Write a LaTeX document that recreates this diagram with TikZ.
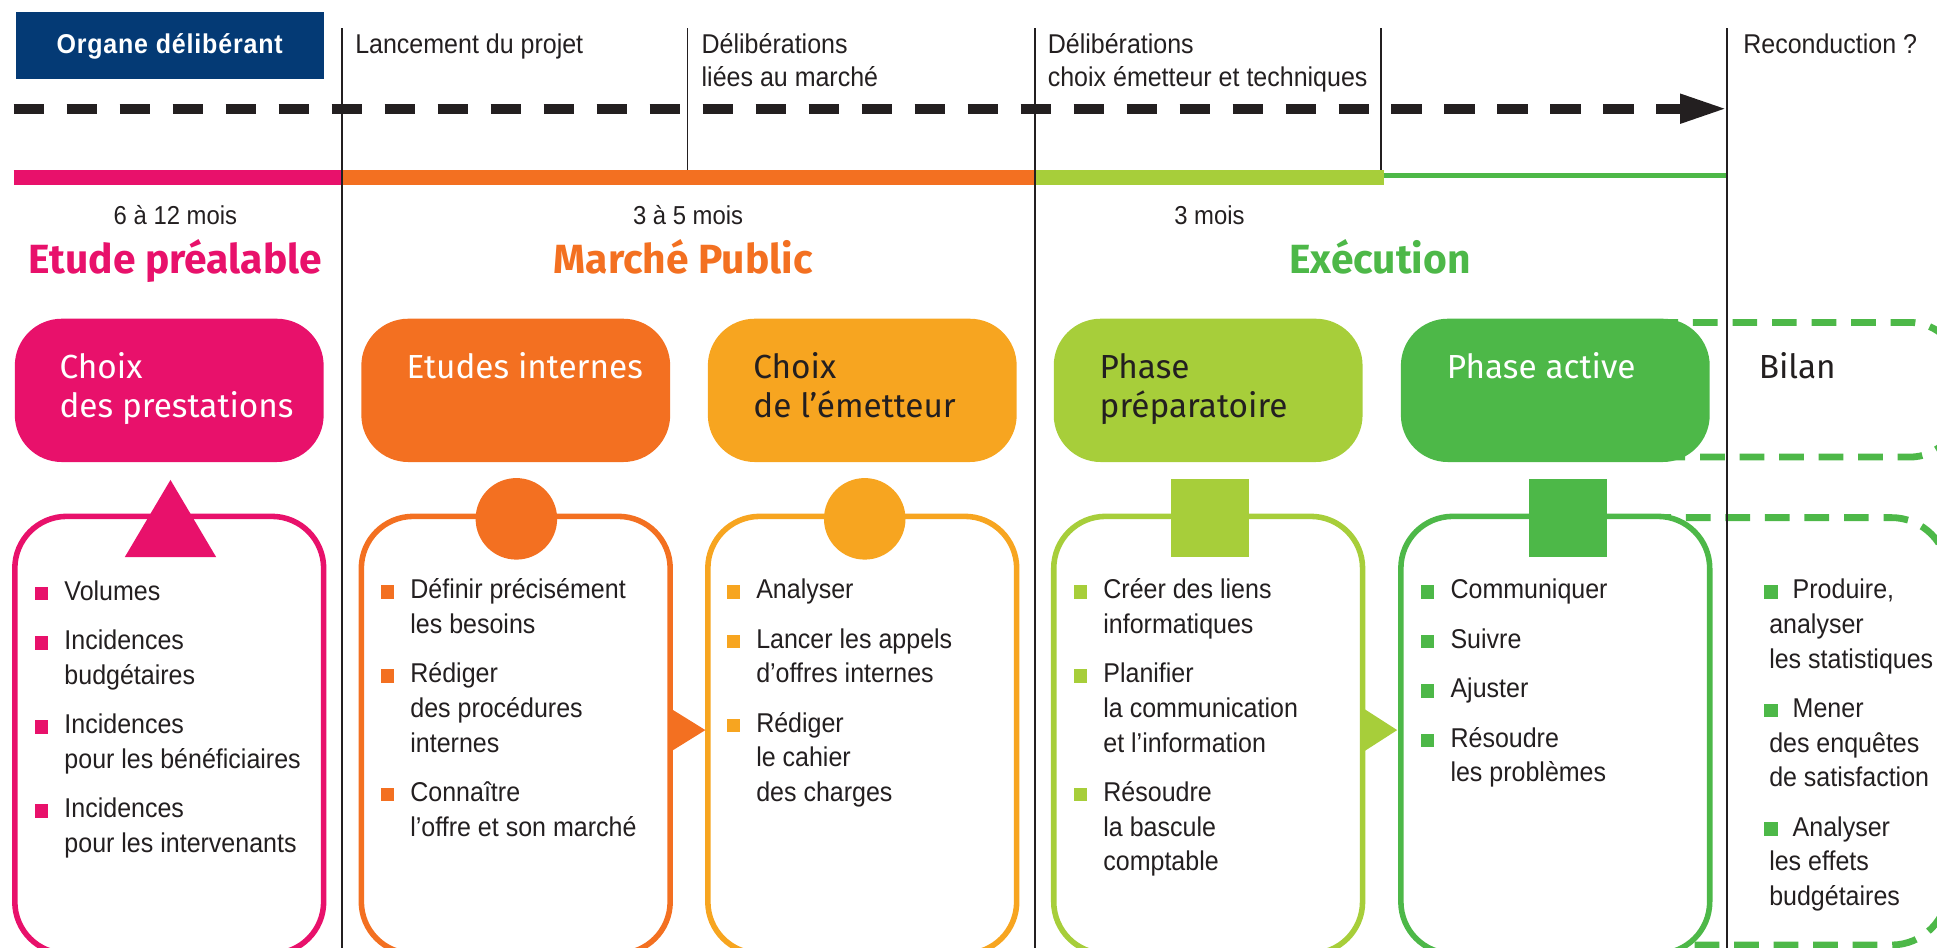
\documentclass[tikz,border=0pt]{standalone}
\usepackage{fontspec}
\setmainfont{Fira Sans}
\newfontfamily\condfont[FakeStretch=0.92]{Liberation Sans}
\usetikzlibrary{arrows.meta}

\definecolor{pinkc}{HTML}{E8116B}
\definecolor{orangec}{HTML}{F37021}
\definecolor{yellowc}{HTML}{F7A520}
\definecolor{lgreenc}{HTML}{A7CE3A}
\definecolor{greenc}{HTML}{4DB848}
\definecolor{navyc}{HTML}{043A75}
\definecolor{inkc}{HTML}{231F20}

\newcommand{\bulsq}[1]{\textcolor{#1}{\rule{11pt}{11pt}}}

\begin{document}
\begin{tikzpicture}[x=1pt, y=-1pt,
  divider/.style={inkc, line width=1.3pt},
  phasebar/.style={line width=12pt},
  timeline/.style={inkc, line width=8pt, dash pattern=on 25pt off 17.9pt, -{Triangle[length=38pt, width=22pt]}},
  organe/.style={fill=navyc, text=white, minimum width=249.4pt, minimum height=54.2pt, inner sep=0pt,
    text height=16pt, text depth=4pt, font=\condfont\bfseries\fontsize{22}{26}\selectfont\addfontfeatures{LetterSpace=3}},
  toptext/.style={font=\condfont\fontsize{22}{27}\selectfont, text=inkc, align=left, anchor=north west, inner sep=0pt},
  duration/.style={font=\condfont\fontsize{21}{25}\selectfont, text=inkc, anchor=base, inner sep=0pt},
  phasetitle/.style={font=\bfseries\fontsize{33}{38}\selectfont, anchor=base, inner sep=0pt},
  topbox/.style={rounded corners=38pt, minimum width=250pt, minimum height=116pt, inner sep=0pt},
  boxtitle/.style={font=\fontsize{27}{32}\selectfont, text=inkc, align=left, anchor=north west, inner sep=0pt},
  listbox/.style={draw, fill=white, line width=4.5pt, rounded corners=42pt, minimum width=250pt, minimum height=354pt, inner sep=0pt},
  bilanbox/.style={greenc, line width=5.5pt, dash pattern=on 20pt off 12pt},
  itemlist/.style={font=\condfont\fontsize{22}{28}\selectfont, text=inkc, anchor=north west, inner sep=0pt}]

\useasboundingbox (0,0) rectangle (1568,767);
\clip (0,0) rectangle (1568,767);

% -------- time line -----------
\draw[phasebar, pinkc]   (11,143.7) -- (277,143.7);
\draw[phasebar, orangec] (277,143.7) -- (838,143.7);
\draw[phasebar, lgreenc] (838,143.7) -- (1120,143.7);
\draw[greenc, line width=4.5pt] (1120,142) -- (1398,142);

\coordinate (tstart) at (11,88);
\coordinate (tend) at (1398,88);
\draw[timeline] (tstart) -- (tend);

\node[organe] (organe) at (137.3,37.1) {Organe délibérant};

\node[toptext] (lancement) at (287.4,24.1) {\strut Lancement du projet};
\node[toptext] (delib1) at (567.8,24.1) {\strut Délibérations\\liées au marché};
\node[toptext] (delib2) at (848,24.1) {\strut Délibérations\\choix émetteur et techniques};
\node[toptext] (reconduction) at (1411,24.1) {\strut Reconduction ?};

\node[duration] (dur1) at (142,182) {6 à 12 mois};
\node[duration] (dur2) at (557,182) {3 à 5 mois};
\node[duration] (dur3) at (979,182) {3 mois};

\node[phasetitle, text=pinkc]   (etude)  at (142,221) {Etude préalable};
\node[phasetitle, text=orangec] (marche) at (553,221) {Marché Public};
\node[phasetitle, text=greenc]  (execution) at (1117,221) {Exécution};

% -------- bilan (behind) -----------
\draw[bilanbox, rounded corners=40pt] (1300,261) rectangle (1586,370);
\draw[bilanbox, rounded corners=46pt] (1300,419) rectangle (1577,765);

% -------- phases -----------
\node[topbox, fill=pinkc]   (prestations) at (137,316) {};
\node[topbox, fill=orangec] (internes) at (417.5,316) {};
\node[topbox, fill=yellowc] (emetteur) at (698,316) {};
\node[topbox, fill=lgreenc] (prepa) at (978,316) {};
\node[topbox, fill=greenc]  (active) at (1259,316) {};

\node[listbox, draw=pinkc]   (lprestations) at (137,595) {};
\node[listbox, draw=orangec] (linternes) at (417.5,595) {};
\node[listbox, draw=yellowc] (lemetteur) at (698,595) {};
\node[listbox, draw=lgreenc] (lprepa) at (978,595) {};
\node[listbox, draw=greenc]  (lactive) at (1259,595) {};

\fill[pinkc] (101,451) -- (138,388.5) -- (175,451) -- cycle;
\fill[orangec] (418,420) circle (33);
\fill[yellowc] (700,420) circle (33);
\fill[lgreenc] (948,388) rectangle (1011,451);
\fill[greenc] (1238,388) rectangle (1301,451);

\fill[orangec] (542,573) -- (571,591) -- (542,609) -- cycle;
\fill[lgreenc] (1103,573) -- (1131,591) -- (1103,609) -- cycle;

\draw[divider] (277,23) -- (277,767);
\draw[divider] (556.5,23) -- (556.5,138);
\draw[divider] (838,23) -- (838,767);
\draw[divider] (1118,23) -- (1118,138);
\draw[divider] (1398,23) -- (1398,767);

% -------- box titles -----------
\node[boxtitle, text=white] (tprestations) at (48,283.6) {\strut Choix\\des prestations};
\node[boxtitle, text=white] (tinternes) at (329,283.6) {\strut Etudes internes};
\node[boxtitle] (temetteur) at (609.6,283.6) {\strut Choix\\de l’émetteur};
\node[boxtitle] (tprepa) at (890,283.6) {\strut Phase\\préparatoire};
\node[boxtitle, text=white] (tactive) at (1171,283.6) {\strut Phase active};
\node[boxtitle] (tbilan) at (1423.5,283.6) {\strut Bilan};

% -------- lists -----------
\node[itemlist] (iprestations) at (28,466) {\begin{tabular}{@{}l@{\hspace{13pt}}l@{}}
\bulsq{pinkc} & Volumes\\[12pt]
\bulsq{pinkc} & Incidences\\ & budgétaires\\[12pt]
\bulsq{pinkc} & Incidences\\ & pour les bénéficiaires\\[12pt]
\bulsq{pinkc} & Incidences\\ & pour les intervenants
\end{tabular}};

\node[itemlist] (iinternes) at (308,465) {\begin{tabular}{@{}l@{\hspace{13pt}}l@{}}
\bulsq{orangec} & Définir précisément\\ & les besoins\\[12pt]
\bulsq{orangec} & Rédiger\\ & des procédures\\ & internes\\[12pt]
\bulsq{orangec} & Connaître\\ & l’offre et son marché
\end{tabular}};

\node[itemlist] (iemetteur) at (588,465) {\begin{tabular}{@{}l@{\hspace{13pt}}l@{}}
\bulsq{yellowc} & Analyser\\[12pt]
\bulsq{yellowc} & Lancer les appels\\ & d’offres internes\\[12pt]
\bulsq{yellowc} & Rédiger\\ & le cahier\\ & des charges
\end{tabular}};

\node[itemlist] (iprepa) at (869,465) {\begin{tabular}{@{}l@{\hspace{13pt}}l@{}}
\bulsq{lgreenc} & Créer des liens\\ & informatiques\\[12pt]
\bulsq{lgreenc} & Planifier\\ & la communication\\ & et l’information\\[12pt]
\bulsq{lgreenc} & Résoudre\\ & la bascule\\ & comptable
\end{tabular}};

\node[itemlist] (iactive) at (1150,465) {\begin{tabular}{@{}l@{\hspace{13pt}}l@{}}
\bulsq{greenc} & Communiquer\\[12pt]
\bulsq{greenc} & Suivre\\[12pt]
\bulsq{greenc} & Ajuster\\[12pt]
\bulsq{greenc} & Résoudre\\ & les problèmes
\end{tabular}};

\node[itemlist] (ibilan) at (1428,465) {\begin{tabular}{@{}l@{}}
\bulsq{greenc}\hspace{12pt}Produire,\\ \hspace{4pt}analyser\\ \hspace{4pt}les statistiques\\[12pt]
\bulsq{greenc}\hspace{12pt}Mener\\ \hspace{4pt}des enquêtes\\ \hspace{4pt}de satisfaction\\[12pt]
\bulsq{greenc}\hspace{12pt}Analyser\\ \hspace{4pt}les effets\\ \hspace{4pt}budgétaires
\end{tabular}};

\end{tikzpicture}
\end{document}
